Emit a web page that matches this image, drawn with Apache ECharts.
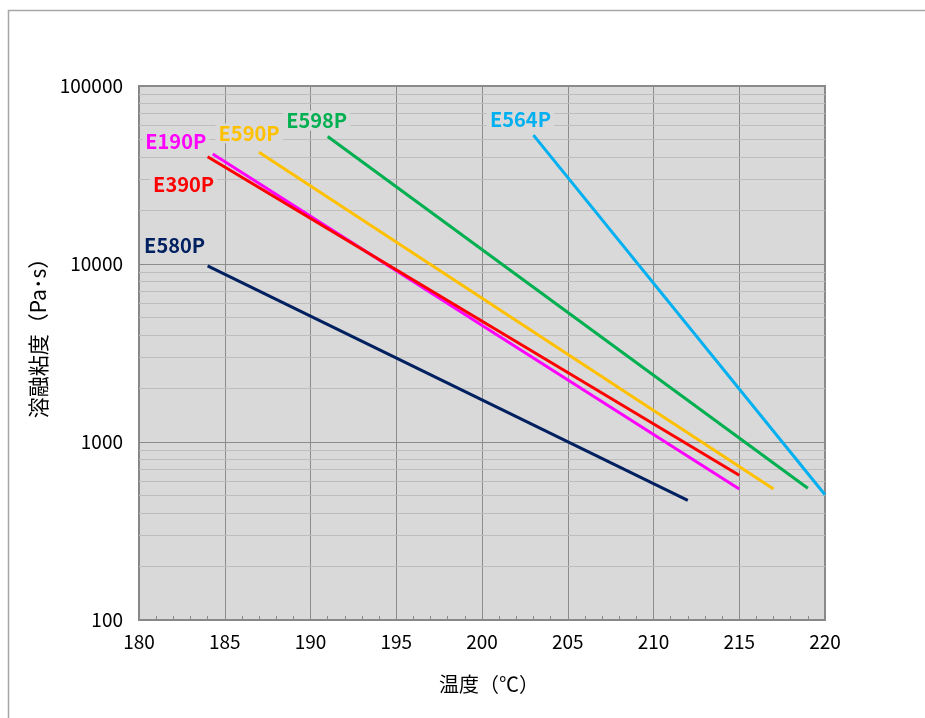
<!DOCTYPE html>
<html>
<head>
<meta charset="utf-8">
<script src="https://cdn.jsdelivr.net/npm/echarts@6/dist/echarts.min.js"></script>
<style>
  html, body { margin: 0; padding: 0; background: #fff; }
  #main { width: 925px; height: 718px; }
</style>
</head>
<body>
<div id="main"></div>
<script>
// grades, colours and line end points [temperature, viscosity]
var names = ['E190P', 'E390P', 'E590P', 'E598P', 'E564P', 'E580P'];
var colors = ['#ff00ff', '#ff0000', '#ffc000', '#00b050', '#00b0f0', '#002060'];
var e190p = [[184.3, 41500], [215, 545]];
var e390p = [[184, 40000], [215, 650]];
var e590p = [[187, 42500], [217, 545]];
var e598p = [[191, 52000], [219, 550]];
var e564p = [[203, 53000], [220, 505]];
var e580p = [[184, 9750], [212, 470]];
var lines = [e190p, e390p, e590p, e598p, e564p, e580p];

// where each name sits relative to the first point of its line
var labelOffsets = [[-37, -13], [-24, 28], [-10, -19], [-11, -16], [-13, -16], [-33, -21]];

// minor log grid
var minorValues = [200, 300, 400, 500, 600, 700, 800, 900,
  2000, 3000, 4000, 5000, 6000, 7000, 8000, 9000,
  20000, 30000, 40000, 50000, 60000, 70000, 80000, 90000];

var dom = document.getElementById('main');
var myChart = echarts.init(dom);

var series = [{
    name: 'minor',
    type: 'line',
    data: [],
    silent: true,
    z: 1,
    markLine: {
        silent: true,
        z: 1,
        symbol: 'none',
        label: { show: false },
        lineStyle: { color: '#bdbdbd', width: 1, type: 'solid' },
        animation: false,
        data: minorValues.map(function (v) { return { yAxis: v }; })
    }
}];

names.forEach(function (n, i) {
    var pts = lines[i].map(function (p, k) {
        var item = { value: p };
        if (k === 0) {
            item.label = {
                show: true,
                position: 'inside',
                offset: labelOffsets[i],
                formatter: n,
                color: colors[i],
                fontSize: 20,
                fontWeight: 'bold',
                fontFamily: 'Noto Sans CJK JP',
                backgroundColor: '#d9d9d9',
                padding: [0, 3]
            };
        }
        return item;
    });
    series.push({
        name: n,
        type: 'line',
        data: pts,
        z: 3,
        symbol: 'circle',
        symbolSize: 0,
        showSymbol: true,
        lineStyle: { color: colors[i], width: 3 },
        itemStyle: { color: colors[i] },
        animation: false
    });
});

option = {
    backgroundColor: '#fff',
    animation: false,
    textStyle: { fontFamily: 'Noto Sans CJK JP' },
    graphic: [{
        type: 'rect',
        shape: { x: 8.5, y: 10.5, width: 1000, height: 1000 },
        style: { fill: 'none', stroke: '#a6a6a6', lineWidth: 1.5 },
        silent: true
    }],
    grid: {
        left: 139,
        top: 86,
        right: 100,
        bottom: 98,
        show: true,
        backgroundColor: '#d9d9d9',
        borderColor: '#888',
        borderWidth: 2
    },
    xAxis: {
        type: 'value',
        min: 180,
        max: 220,
        interval: 5,
        name: '温度（℃）',
        nameLocation: 'middle',
        nameGap: 54,
        nameTextStyle: { color: '#000', fontSize: 20, padding: [0, 0, 0, 14] },
        axisLine: { show: true, lineStyle: { color: '#888', width: 2 } },
        axisTick: { show: true, inside: true, length: 5, lineStyle: { color: '#888' } },
        minorTick: { show: true, splitNumber: 5, length: 4, lineStyle: { color: '#888' } },
        axisLabel: { color: '#000', fontSize: 19, margin: 12 },
        splitLine: { show: true, lineStyle: { color: '#8c8c8c', width: 1 } }
    },
    yAxis: {
        type: 'log',
        logBase: 10,
        min: 100,
        max: 100000,
        name: '溶融粘度（Pa･s）',
        nameLocation: 'middle',
        nameGap: 84,
        nameRotate: 90,
        nameTextStyle: { color: '#000', fontSize: 21, padding: [0, 0, 0, 40] },
        axisLine: { show: true, lineStyle: { color: '#888', width: 2 } },
        axisTick: { show: true, inside: true, length: 5, lineStyle: { color: '#888' } },
        axisLabel: {
            color: '#000', fontSize: 19, margin: 16,
            formatter: function (v) { return String(Math.round(v)); }
        },
        splitLine: { show: true, lineStyle: { color: '#8c8c8c', width: 1 } }
    },
    series: series
};

myChart.setOption(option);
</script>
</body>
</html>
